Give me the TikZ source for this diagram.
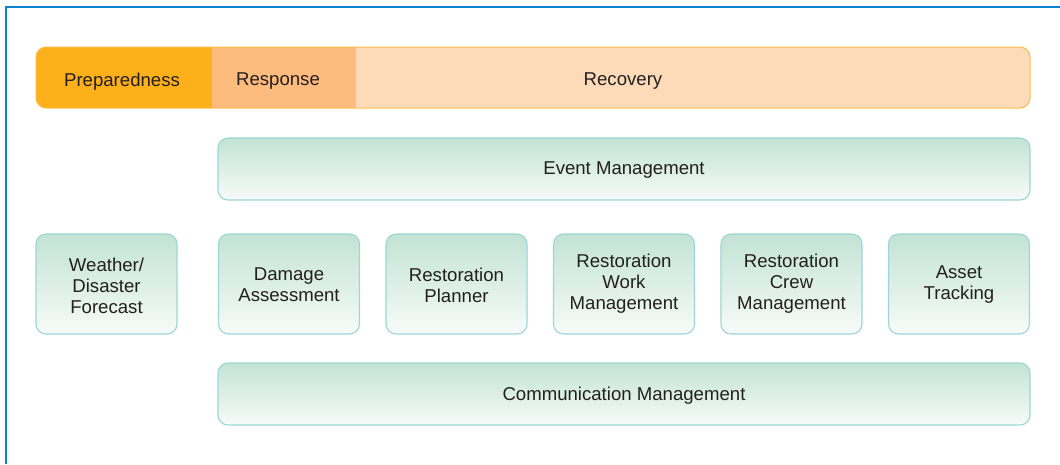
\documentclass[tikz,border=0pt]{standalone}
\usepackage{fontspec}
\setmainfont{Liberation Sans}

\definecolor{frameblue}{HTML}{0A84CE}
\definecolor{prepfill}{HTML}{FDB01A}
\definecolor{respfill}{HTML}{FDBB7D}
\definecolor{recovfill}{HTML}{FDDAB8}
\definecolor{phaseline}{HTML}{FBBB48}
\definecolor{modline}{HTML}{9DD5D6}
\definecolor{modtop}{HTML}{C2E3D4}
\definecolor{modbot}{HTML}{F7FBF9}
\definecolor{txt}{HTML}{231F20}

\tikzset{
  lbl/.style={text=txt, font=\fontsize{18.6}{21}\selectfont, align=center, inner sep=0pt},
  module/.style={draw=modline, line width=1.1pt, rounded corners=10pt,
    top color=modtop, bottom color=modbot},
  widebox/.style={module, minimum width=812pt, minimum height=62pt},
  modbox/.style={module, minimum width=141pt, minimum height=100pt}
}

\begin{document}
\begin{tikzpicture}[x=1pt,y=-1pt]
\useasboundingbox (0,0) rectangle (1060,464);

% outer frame, open at right and bottom
\draw[frameblue, line width=2.8pt] (6,464) -- (6,7) -- (1060,7);

% phase bar
\begin{scope}
\clip[rounded corners=10pt] (36,47) rectangle (1030,108);
\fill[prepfill] (36,47) rectangle (212,108);
\fill[respfill] (212,47) rectangle (356,108);
\fill[recovfill] (356,47) rectangle (1030,108);
\end{scope}
\draw[phaseline, line width=1pt, rounded corners=10pt] (36,47) rectangle (1030,108);
\node[lbl] (prep) at (122,81.5) {Preparedness};
\node[lbl] (resp) at (278,81.5) {Response};
\node[lbl] (recov) at (623,81.5) {Recovery};

% modules (boxes first, labels on top)
\node[widebox] (event) at (624,169) {};
\node[modbox] (weather) at (106.5,284) {};
\node[modbox] (damage) at (289,284) {};
\node[modbox] (planner) at (456.5,284) {};
\node[modbox] (work) at (624,284) {};
\node[modbox] (crew) at (791.5,284) {};
\node[modbox] (asset) at (959,284) {};
\node[widebox] (comm) at (624,394) {};

\node[lbl] at ([yshift=-1.5pt]event) {Event Management};
\node[lbl] at ([yshift=-1.5pt]weather) {Weather/\\Disaster\\Forecast};
\node[lbl] at ([yshift=-1pt]damage) {Damage\\Assessment};
\node[lbl] at ([yshift=-1pt]planner) {Restoration\\Planner};
\node[lbl] at (work) {Restoration\\Work\\Management};
\node[lbl] at (crew) {Restoration\\Crew\\Management};
\node[lbl] at ([yshift=-1pt]asset) {Asset\\Tracking};
\node[lbl] at ([yshift=-1.5pt]comm) {Communication Management};
\end{tikzpicture}
\end{document}
